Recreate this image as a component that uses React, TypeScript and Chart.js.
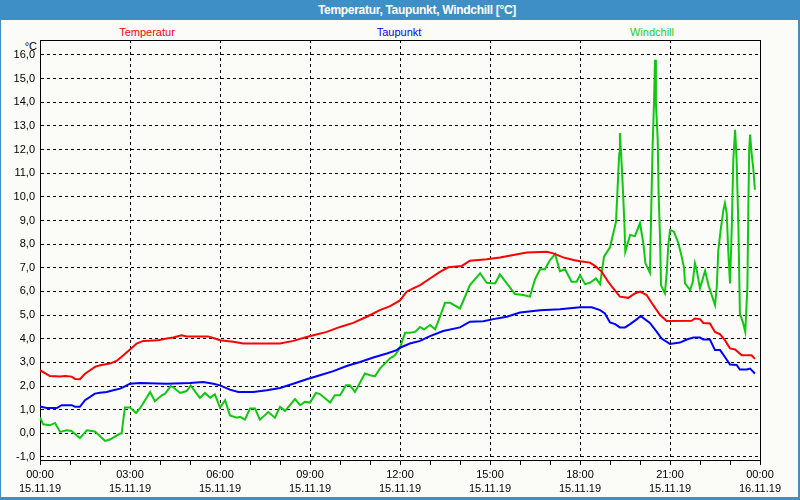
import React, { useEffect, useRef } from 'react';
import { Chart, registerables } from 'chart.js';

Chart.register(...registerables);

// Temperatur (hours since 15.11.19 00:00, °C)
const tempHours = [0, 0.33, 0.67, 0.85, 1.05, 1.17, 1.33, 1.5, 1.67, 1.83, 2.0, 2.33, 2.55, 2.78, 3.0, 3.22, 3.44, 3.94, 4.22, 4.44, 4.72, 4.89, 5.6, 5.83, 6.0, 6.44, 6.78, 8.0, 8.44, 8.83, 9.11, 9.56, 10.0, 10.44, 10.89, 11.33, 11.67, 12.0, 12.22, 12.44, 12.67, 13.0, 13.33, 13.61, 14.06, 14.33, 14.89, 15.33, 15.78, 16.22, 16.89, 17.11, 17.44, 17.78, 18.0, 18.33, 18.5, 18.72, 18.94, 19.11, 19.33, 19.61, 19.83, 20.0, 20.22, 20.44, 20.67, 20.89, 21.72, 21.83, 22.0, 22.11, 22.33, 22.5, 22.67, 22.83, 23.0, 23.17, 23.39, 23.72, 23.83];
const tempValues = [2.67, 2.42, 2.4, 2.43, 2.4, 2.3, 2.29, 2.52, 2.67, 2.81, 2.88, 2.95, 3.06, 3.3, 3.55, 3.8, 3.91, 3.94, 4.01, 4.05, 4.15, 4.1, 4.1, 4.01, 3.94, 3.87, 3.8, 3.8, 3.91, 4.05, 4.15, 4.29, 4.5, 4.67, 4.93, 5.21, 5.38, 5.62, 5.99, 6.13, 6.27, 6.55, 6.83, 7.02, 7.08, 7.3, 7.36, 7.44, 7.54, 7.65, 7.68, 7.61, 7.44, 7.33, 7.28, 7.22, 7.08, 6.84, 6.41, 6.13, 5.78, 5.73, 5.92, 5.99, 5.85, 5.42, 5.0, 4.75, 4.76, 4.86, 4.83, 4.67, 4.65, 4.29, 4.19, 3.94, 3.59, 3.55, 3.3, 3.3, 3.15];

// Taupunkt
const dewHours = [0, 0.22, 0.56, 0.72, 1.06, 1.17, 1.33, 1.5, 1.67, 1.83, 2.0, 2.22, 2.44, 2.67, 2.83, 3.0, 3.33, 4.22, 5.0, 5.44, 5.78, 6.0, 6.33, 6.61, 7.11, 7.56, 8.0, 8.44, 8.89, 9.33, 9.78, 10.22, 10.67, 11.11, 11.56, 11.89, 12.0, 12.33, 12.67, 13.0, 13.44, 14.0, 14.33, 14.78, 15.11, 15.56, 16.0, 16.67, 17.33, 18.0, 18.39, 18.67, 18.83, 19.0, 19.17, 19.33, 19.5, 19.67, 19.89, 20.02, 20.17, 20.33, 20.56, 20.72, 21.0, 21.33, 21.56, 21.78, 22.0, 22.11, 22.33, 22.5, 22.67, 22.83, 23.0, 23.22, 23.33, 23.56, 23.67, 23.83];
const dewValues = [1.14, 1.07, 1.07, 1.19, 1.19, 1.12, 1.12, 1.4, 1.54, 1.68, 1.72, 1.75, 1.82, 1.89, 1.99, 2.1, 2.13, 2.1, 2.13, 2.17, 2.1, 2.03, 1.85, 1.75, 1.75, 1.82, 1.92, 2.1, 2.29, 2.46, 2.63, 2.85, 3.02, 3.21, 3.38, 3.52, 3.62, 3.8, 3.91, 4.11, 4.33, 4.48, 4.72, 4.74, 4.83, 4.93, 5.11, 5.21, 5.25, 5.33, 5.33, 5.21, 5.07, 4.69, 4.62, 4.48, 4.48, 4.62, 4.82, 4.96, 4.82, 4.67, 4.29, 4.01, 3.78, 3.84, 3.97, 4.05, 4.05, 3.97, 3.97, 3.52, 3.52, 3.23, 2.91, 2.89, 2.7, 2.7, 2.74, 2.53];

// Windchill
const windHours = [0, 0.11, 0.33, 0.5, 0.67, 0.89, 1.05, 1.33, 1.56, 1.83, 2.17, 2.33, 2.67, 2.72, 2.83, 3.0, 3.2, 3.33, 3.67, 3.83, 4.06, 4.17, 4.36, 4.44, 4.67, 4.89, 5.02, 5.33, 5.5, 5.67, 5.83, 6.0, 6.17, 6.33, 6.56, 6.67, 6.83, 7.0, 7.17, 7.33, 7.61, 7.83, 8.0, 8.17, 8.5, 8.67, 8.83, 9.0, 9.2, 9.33, 9.67, 9.83, 10.0, 10.2, 10.33, 10.5, 10.83, 11.0, 11.17, 11.33, 11.67, 11.83, 12.0, 12.17, 12.33, 12.5, 12.67, 12.8, 13.0, 13.17, 13.33, 13.5, 13.67, 14.0, 14.33, 14.67, 14.89, 15.17, 15.33, 15.56, 15.83, 16.11, 16.33, 16.5, 16.67, 16.83, 17.0, 17.17, 17.33, 17.5, 17.72, 17.89, 18.0, 18.17, 18.33, 18.53, 18.67, 18.8, 19.0, 19.11, 19.2, 19.24, 19.28, 19.31, 19.33, 19.37, 19.42, 19.48, 19.51, 19.67, 19.83, 20.0, 20.11, 20.18, 20.33, 20.39, 20.42, 20.47, 20.5, 20.53, 20.59, 20.62, 20.67, 20.7, 20.83, 20.89, 20.94, 21.0, 21.13, 21.28, 21.39, 21.47, 21.5, 21.67, 21.76, 21.83, 21.89, 22.0, 22.17, 22.28, 22.39, 22.5, 22.56, 22.61, 22.69, 22.78, 22.83, 22.89, 22.94, 23.0, 23.06, 23.11, 23.17, 23.22, 23.28, 23.33, 23.44, 23.51, 23.58, 23.61, 23.64, 23.67, 23.72, 23.78, 23.83];
const windValues = [0.66, 0.38, 0.34, 0.44, 0.06, 0.13, 0.1, -0.2, 0.13, 0.08, -0.32, -0.26, -0.01, -0.01, 1.09, 1.09, 0.86, 1.05, 1.75, 1.36, 1.61, 1.68, 2.0, 1.95, 1.71, 1.79, 2.03, 1.5, 1.71, 1.51, 1.65, 1.09, 1.4, 0.76, 0.66, 0.7, 0.58, 1.05, 1.05, 0.58, 0.9, 0.66, 1.12, 0.95, 1.45, 1.19, 1.33, 1.3, 1.71, 1.66, 1.3, 1.61, 1.61, 2.03, 2.03, 1.75, 2.53, 2.46, 2.42, 2.74, 3.17, 3.3, 3.62, 4.25, 4.25, 4.29, 4.5, 4.39, 4.58, 4.4, 4.93, 5.52, 5.52, 5.28, 6.27, 6.77, 6.37, 6.34, 6.72, 6.34, 5.89, 5.85, 5.78, 6.51, 6.94, 6.94, 7.33, 7.58, 6.86, 6.94, 6.41, 6.41, 6.69, 6.31, 6.37, 6.55, 6.31, 7.47, 7.87, 8.46, 8.95, 10.01, 11.14, 11.85, 12.7, 11.85, 10.58, 8.89, 7.68, 8.39, 8.34, 8.89, 8.04, 7.19, 6.79, 10.37, 12.13, 14.11, 15.8, 13.97, 12.42, 10.16, 8.18, 6.27, 5.92, 6.77, 7.89, 8.6, 8.53, 8.04, 7.47, 6.98, 6.34, 6.06, 6.41, 7.19, 6.91, 6.13, 6.88, 6.27, 5.85, 5.42, 6.2, 7.75, 8.6, 9.45, 9.73, 9.31, 7.75, 6.34, 8.74, 11.57, 12.84, 11.57, 8.74, 5.07, 4.65, 4.29, 6.2, 9.45, 11.99, 12.63, 11.85, 11.14, 10.3];

const yTickValues = [-1, 0, 1, 2, 3, 4, 5, 6, 7, 8, 9, 10, 11, 12, 13, 14, 15, 16];
const xTickHours = [0, 1, 2, 3, 4, 5, 6, 7, 8, 9, 10, 11, 12, 13, 14, 15, 16, 17, 18, 19, 20, 21, 22, 23, 24];
const xLabelTimes = ['00:00', '03:00', '06:00', '09:00', '12:00', '15:00', '18:00', '21:00', '00:00'];
const xLabelDates = ['15.11.19', '15.11.19', '15.11.19', '15.11.19', '15.11.19', '15.11.19', '15.11.19', '15.11.19', '16.11.19'];

const FONT = '"Liberation Sans", Arial, sans-serif';

export default function App() {
  const ref = useRef<HTMLCanvasElement>(null);

  useEffect(() => {
    if (!ref.current) return;
    const framePlugin = {
      id: 'frame',
      afterDatasetsDraw(chart: any) {
        const { ctx, chartArea: a } = chart;
        ctx.save();
        ctx.strokeStyle = '#000';
        ctx.lineWidth = 1;
        ctx.beginPath();
        ctx.moveTo(a.left, Math.round(a.top) + 0.5);
        ctx.lineTo(Math.round(a.right) + 0.5, Math.round(a.top) + 0.5);
        ctx.lineTo(Math.round(a.right) + 0.5, a.bottom);
        ctx.stroke();
        ctx.restore();
      },
    };
    const pts = (hs: number[], vs: number[]) => hs.map((h, i) => ({ x: h, y: vs[i] }));
    const chart = new Chart(ref.current, {
      type: 'line',
      data: {
        datasets: [
          { label: 'Temperatur', data: pts(tempHours, tempValues), borderColor: '#ff0000', borderWidth: 2, pointRadius: 0, tension: 0, fill: false },
          { label: 'Taupunkt', data: pts(dewHours, dewValues), borderColor: '#0000ff', borderWidth: 2, pointRadius: 0, tension: 0, fill: false },
          { label: 'Windchill', data: pts(windHours, windValues), borderColor: '#10c810', borderWidth: 2, pointRadius: 0, tension: 0, fill: false },
        ],
      },
      options: {
        animation: false,
        responsive: false,
        events: [],
        layout: { padding: { left: 0, top: 40, right: 40, bottom: 0 } },
        plugins: { legend: { display: false }, tooltip: { enabled: false }, title: { display: false } },
        scales: {
          x: {
            type: 'linear',
            min: 0,
            max: 24,
            afterBuildTicks: (s: any) => { s.ticks = xTickHours.map((v) => ({ value: v })); },
            afterFit: (s: any) => { s.height = 40; },
            ticks: {
              autoSkip: false,
              maxRotation: 0,
              color: '#000',
              padding: 2,
              font: { family: FONT, size: 11, lineHeight: 1.36 },
              callback: (v: any) => {
                const n = Number(v);
                if (n % 3 !== 0) return '';
                const k = n / 3;
                return [xLabelTimes[k], xLabelDates[k]];
              },
            },
            grid: {
              color: (c: any) => (c.tick && c.tick.value % 3 === 0 ? '#000' : 'rgba(0,0,0,0)'),
              tickColor: '#000',
              tickLength: 5,
              lineWidth: 1,
            },
            border: { color: '#000', width: 1, dash: [3, 3] },
          },
          y: {
            type: 'linear',
            min: -1.127,
            max: 16.634,
            afterBuildTicks: (s: any) => { s.ticks = yTickValues.map((v) => ({ value: v })); },
            afterFit: (s: any) => { s.width = 40; },
            ticks: {
              color: '#000',
              padding: 5,
              font: { family: FONT, size: 11 },
              callback: (v: any) => Number(v).toFixed(1).replace('.', ','),
            },
            grid: { color: '#000', drawTicks: false, tickLength: 0, lineWidth: 1 },
            border: { color: '#000', width: 1, dash: [3, 3] },
          },
        },
      },
      plugins: [framePlugin],
    } as any);
    return () => chart.destroy();
  }, []);

  const legendStyle = (cx: number, color: string): React.CSSProperties => ({
    position: 'absolute',
    left: cx - 100,
    width: 200,
    top: 25,
    textAlign: 'center',
    fontFamily: FONT,
    fontSize: 11,
    lineHeight: '15px',
    color,
  });

  return (
    <div style={{ position: 'fixed', left: 0, top: 0, width: 800, height: 500, background: '#3e8fc6', overflow: 'hidden' }}>
      <div style={{ position: 'absolute', left: 1, top: 20, width: 797, height: 477, background: '#fbfcf8' }} />
      <div
        style={{
          position: 'absolute', left: 0, top: 0, width: 834, height: 20, lineHeight: '20px', textAlign: 'center',
          color: '#fff', fontFamily: FONT, fontWeight: 'bold', fontSize: 12, letterSpacing: -0.3,
        }}
      >
        Temperatur, Taupunkt, Windchill [°C]
      </div>
      <div style={legendStyle(147, '#ff0000')}>Temperatur</div>
      <div style={legendStyle(399, '#0000ff')}>Taupunkt</div>
      <div style={legendStyle(652, '#22cc22')}>Windchill</div>
      <div style={{ position: 'absolute', left: 0, width: 37, top: 39, textAlign: 'right', fontFamily: FONT, fontSize: 11, lineHeight: '14px', color: '#000' }}>°C</div>
      <canvas ref={ref} width={800} height={500} style={{ position: 'absolute', left: 0, top: 0, width: 800, height: 500 }} />
    </div>
  );
}
